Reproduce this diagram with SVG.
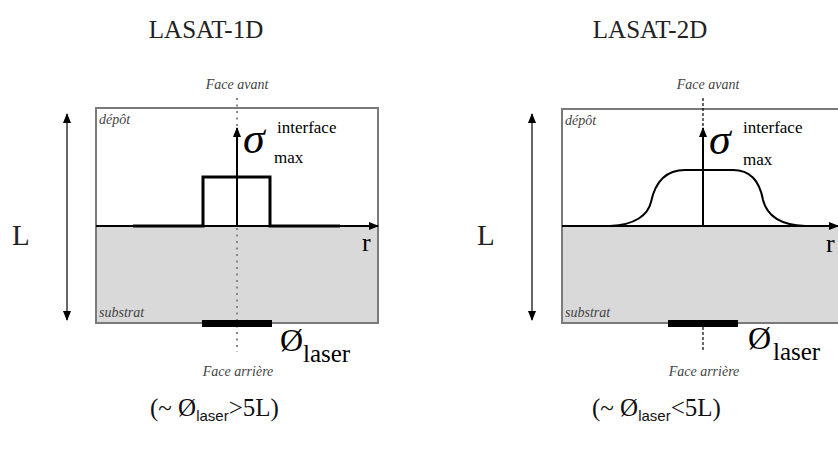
<svg xmlns="http://www.w3.org/2000/svg" width="838" height="454" viewBox="0 0 838 454">
<style>
.title{font-family:"Liberation Serif",serif;font-size:25px;fill:#222}
.L{font-family:"Liberation Serif",serif;font-size:29px;fill:#222}
.lab{font-family:"Liberation Serif",serif;font-style:italic;font-size:14px;fill:#444}
.sig{font-family:"Liberation Serif",serif;font-style:italic;font-size:44px;fill:#000}
.sup{font-family:"Liberation Serif",serif;font-size:17px;fill:#000}
.r{font-family:"Liberation Serif",serif;font-size:26px;fill:#000}
.o{font-family:"Liberation Serif",serif;font-size:32px;fill:#000}
.las{font-family:"Liberation Serif",serif;font-size:25px;fill:#000}
.bot{font-family:"Liberation Serif",serif;font-size:25px;fill:#111}
.bsub{font-family:"Liberation Sans",sans-serif;font-size:15px;fill:#111}
.box{fill:#fff;stroke:#7a7a7a;stroke-width:2}
.sub{fill:#d9d9d9}
.axis{stroke:#000;stroke-width:2;fill:none}
.dim{stroke:#333;stroke-width:1.5;fill:none}
.dot{stroke:#888;stroke-width:2;stroke-dasharray:2 4.5;fill:none}
.dash{stroke:#000;stroke-width:1.2;stroke-dasharray:3 2;fill:none}
.bar{fill:#000}
</style>
<defs>
<marker id="ah" viewBox="0 0 10 8" refX="9" refY="4" markerWidth="10" markerHeight="8" markerUnits="userSpaceOnUse" orient="auto-start-reverse">
<path d="M0,0 L10,4 L0,8 z" fill="#000"/>
</marker>
</defs>

<g id="panel-1d">
<text class="title" x="206" y="38" text-anchor="middle">LASAT-1D</text>
<rect class="box" x="96" y="108" width="282" height="215"/>
<rect class="sub" x="97" y="226" width="280" height="96"/>
<rect x="96" y="108" width="282" height="215" fill="none" stroke="#7a7a7a" stroke-width="2"/>
<text class="L" x="12" y="245">L</text>
<text class="lab" x="99" y="124">dépôt</text>
<text class="lab" x="99" y="317">substrat</text>
<text class="lab" x="237" y="89" text-anchor="middle">Face avant</text>
<text class="lab" x="238" y="376" text-anchor="middle">Face arrière</text>
<text class="sig" x="243" y="153">σ</text>
<text class="sup" x="277" y="133">interface</text>
<text class="sup" x="274" y="163">max</text>
<text class="r" x="362" y="251">r</text>
<text class="o" x="280" y="351">Ø</text>
<text class="las" x="303" y="362">laser</text>
<text class="bot" x="150" y="416">(~ Ø<tspan class="bsub" dy="5">laser</tspan><tspan dy="-5">&gt;5L)</tspan></text>
</g>

<g id="panel-2d">
<text class="title" x="650" y="38" text-anchor="middle">LASAT-2D</text>
<rect class="box" x="562" y="109" width="290" height="214"/>
<rect class="sub" x="563" y="226" width="288" height="96"/>
<rect x="562" y="109" width="290" height="214" fill="none" stroke="#7a7a7a" stroke-width="2"/>
<text class="L" x="477" y="245">L</text>
<text class="lab" x="565" y="125">dépôt</text>
<text class="lab" x="565" y="317">substrat</text>
<text class="lab" x="708" y="89" text-anchor="middle">Face avant</text>
<text class="lab" x="704" y="376" text-anchor="middle">Face arrière</text>
<text class="sig" x="709" y="154">σ</text>
<text class="sup" x="743" y="133">interface</text>
<text class="sup" x="743" y="165">max</text>
<text class="r" x="826" y="252">r</text>
<text class="o" x="748" y="349">Ø</text>
<text class="las" x="773" y="360">laser</text>
<text class="bot" x="592" y="416">(~ Ø<tspan class="bsub" dy="5">laser</tspan><tspan dy="-5">&lt;5L)</tspan></text>
</g>

<g id="connectors">
<line class="dim" x1="67" y1="114" x2="67" y2="320" marker-start="url(#ah)" marker-end="url(#ah)"/>
<line class="dot" x1="237" y1="98" x2="237" y2="352"/>
<line class="axis" x1="96" y1="226" x2="378" y2="226" marker-end="url(#ah)"/>
<line class="axis" x1="237" y1="226" x2="237" y2="128" marker-end="url(#ah)"/>
<path d="M133 226 L203 226 L203 177 L270 177 L270 226 L340 226" fill="none" stroke="#000" stroke-width="3"/>
<rect class="bar" x="202" y="320" width="70" height="7"/>

<line class="dim" x1="532" y1="114" x2="532" y2="320" marker-start="url(#ah)" marker-end="url(#ah)"/>
<line class="dash" x1="703" y1="98" x2="703" y2="128"/>
<line class="dash" x1="703" y1="327" x2="703" y2="350"/>
<line class="axis" x1="562" y1="226" x2="838" y2="226" marker-end="url(#ah)"/>
<line class="axis" x1="703" y1="226" x2="703" y2="128" marker-end="url(#ah)"/>
<path d="M610 226 C635 225 648 215 651 202 C655 183 665 170 685 170 L733 170 C752 170 760 183 763 200 C767 216 780 225 805 226" fill="none" stroke="#000" stroke-width="2"/>
<rect class="bar" x="668" y="320" width="70" height="7"/>
</g>
</svg>
